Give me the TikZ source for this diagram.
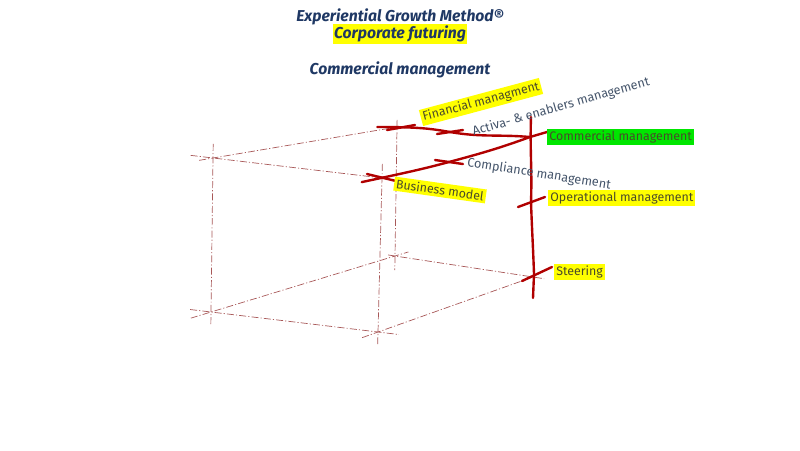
\documentclass[tikz,border=0pt]{standalone}
\usepackage{fontspec}
\setmainfont{Fira Sans}
\usetikzlibrary{calc}
\definecolor{ttlblue}{HTML}{1F3864}
\definecolor{lblgrey}{HTML}{44546A}
\definecolor{lbltext}{HTML}{4A4A2A}
\definecolor{hlyellow}{HTML}{FFFF00}
\definecolor{hlgreen}{HTML}{00E600}
\definecolor{axred}{HTML}{B00000}
\definecolor{frame}{HTML}{A85858}
\def\lw{1.7pt}
\tikzstyle{ttl}=[text=ttlblue,font=\fontsize{11.2}{13}\selectfont\bfseries\itshape,inner sep=1pt]
\tikzstyle{hl}=[fill=hlyellow,text=lbltext,font=\fontsize{8.8}{10}\selectfont,inner sep=1.5pt]
\tikzstyle{gr}=[hl,fill=hlgreen]
\tikzstyle{pl}=[text=lblgrey,font=\fontsize{9}{10}\selectfont,inner sep=0.5pt]
\tikzstyle{ax}=[draw=axred,line width=\lw,line cap=round]
\tikzstyle{dl}=[draw=frame,line width=0.5pt,dash pattern=on 5pt off 1.5pt on 0.8pt off 1.5pt]

\begin{document}
\begin{tikzpicture}[x=0.025cm,y=-0.025cm]
\useasboundingbox (0,0) rectangle (800,450);
% titles
\node[ttl](t1) at (400,17){Experiential Growth Method\textregistered};
\node[ttl,fill=hlyellow](t2) at (400,34){Corporate futuring};
\node[ttl](t3) at (400,70){Commercial management};
% box corners
\coordinate(A) at (213,158);
\coordinate(B) at (382,178);
\coordinate(C) at (397,127);
\coordinate(E) at (211,312);
\coordinate(F) at (378,332);
\coordinate(G) at (395,256);
\coordinate(H) at (533,277);
% dashed frame
\draw[dl,shorten <=-16pt](A)--(B);
\draw[dl,shorten <=-10pt](A)--(C);
\draw[dl,shorten <=-10pt,shorten >=-10pt](A)--(E);
\draw[dl,shorten <=-10pt,shorten >=-10pt](B)--(F);
\draw[dl,shorten <=-5pt,shorten >=-10pt](C)--(G);
\draw[dl,shorten <=-15pt,shorten >=-15pt](E)--(F);
\draw[dl,shorten <=-15pt,shorten >=-10pt](E)--(G);
\draw[dl,shorten <=-5pt,shorten >=-8pt](G)--(H);
\draw[dl,shorten <=-12pt](F)--(H);
% axes
\coordinate(fin) at (397,127);
\coordinate(act) at (450,132);
\coordinate(com) at (530,137);
\coordinate(bus) at (381,178);
\coordinate(cpl) at (449,162);
\coordinate(op) at (531,202);
\coordinate(st) at (534,274);
\coordinate(top) at (531,117);
\coordinate(bot) at (533,298);
\draw[ax,shorten <=-14pt](fin) to[out=0,in=170](act) to[out=-10,in=175](com);
\draw[ax,shorten <=-14pt](bus) to[out=12,in=195](cpl) to[out=15,in=200](com) -- +(17,-5);
\draw[ax](top) to[out=-92,in=88](op) to[out=-88,in=92](st) -- (bot);
% ticks
\draw[ax]($(fin)+(-10,3)$)--($(fin)+(18,-2)$);
\draw[ax]($(act)+(-13,2)$)--($(act)+(13,-2)$);
\draw[ax]($(bus)+(-14,-4)$)--($(bus)+(15,3)$);
\draw[ax]($(cpl)+(-14,-2)$)--($(cpl)+(14,2)$);
\draw[ax]($(op)+(-13,5)$)--($(op)+(14,-5)$);
\draw[ax]($(st)+(-12,7)$)--($(st)+(18,-7)$);
% labels
\node[hl,rotate=15](lfin) at (481,102){Financial managment};
\node[pl,rotate=16](lact) at (561,107){Activa- \& enablers management};
\node[gr,anchor=west](lcom) at (547,137){Commercial management};
\node[pl,rotate=-9](lcpl) at (539,174){Compliance management};
\node[hl,rotate=-8](lbus) at (440,190){Business model};
\node[hl,anchor=west](lop) at (548,198){Operational management};
\node[hl,anchor=west](lst) at (554,272){Steering};
\end{tikzpicture}
\end{document}
